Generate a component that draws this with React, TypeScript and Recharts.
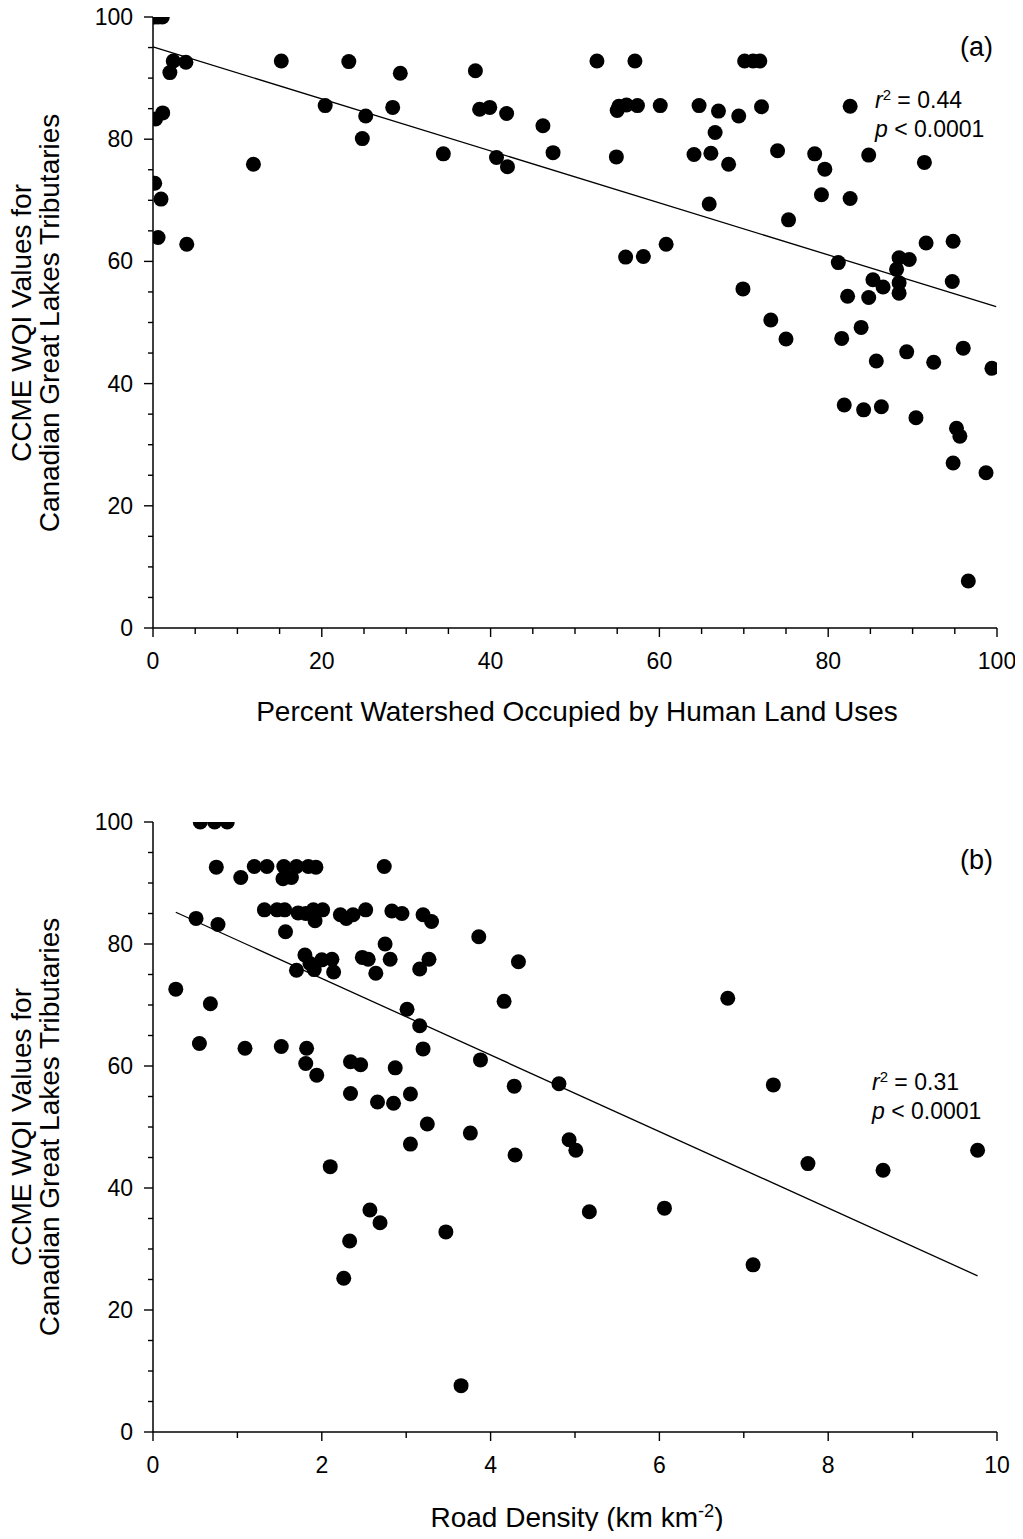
import React from 'react';
import { ScatterChart, Scatter, XAxis, YAxis, ReferenceLine } from 'recharts';

const FONT = '"Liberation Sans", Arial, Helvetica, sans-serif';

// (a) percent of watershed in human land uses vs CCME WQI
const landUse = [
  0.2, 0.6, 1.1, 2.4, 3.9, 2.0, 0.3, 1.15, 15.2, 23.2, 29.3, 20.4, 25.2, 28.4, 24.8, 34.4, 11.9, 0.2, 0.95, 0.6,
  4.0, 38.2, 38.7, 39.9, 41.9, 46.2, 47.4, 40.7, 42.0, 52.6, 57.1, 55.2, 56.1, 55.0, 57.4, 60.1, 64.7, 67.0, 66.6, 64.1,
  66.1, 68.2, 54.9, 65.9, 56.0, 58.1, 60.8, 70.1, 71.1, 71.9, 69.4, 72.1, 74.0, 78.4, 79.6, 82.6, 84.8, 91.4, 75.3, 79.2,
  82.6, 81.2, 91.6, 94.8, 88.4, 89.6, 88.1, 88.4, 88.4, 85.3, 86.5, 82.3, 84.8, 94.7, 69.9, 73.2, 83.9, 75.0, 81.6, 89.3,
  85.7, 92.5, 96.0, 99.4, 81.9, 84.2, 86.3, 90.4, 95.2, 95.6, 94.8, 98.7, 96.6,
];
const wqiLand = [
  100, 100, 100, 92.8, 92.6, 90.9, 83.3, 84.3, 92.8, 92.7, 90.8, 85.5, 83.8, 85.2, 80.1, 77.6, 75.9, 72.8, 70.2, 63.9,
  62.8, 91.2, 84.9, 85.2, 84.2, 82.2, 77.8, 77.0, 75.5, 92.8, 92.8, 85.4, 85.6, 84.7, 85.5, 85.5, 85.5, 84.6, 81.1, 77.5,
  77.7, 75.9, 77.1, 69.4, 60.7, 60.8, 62.8, 92.8, 92.8, 92.8, 83.8, 85.3, 78.1, 77.6, 75.1, 85.4, 77.4, 76.2, 66.8, 70.9,
  70.3, 59.8, 63.0, 63.3, 60.6, 60.3, 58.7, 56.5, 54.8, 57.0, 55.8, 54.3, 54.1, 56.7, 55.5, 50.4, 49.2, 47.3, 47.4, 45.2,
  43.7, 43.5, 45.8, 42.5, 36.5, 35.7, 36.2, 34.4, 32.7, 31.4, 27.0, 25.4, 7.7,
];

// (b) road density vs CCME WQI
const roadDensity = [
  0.56, 0.73, 0.88, 0.75, 1.04, 1.2, 1.35, 1.55, 1.7, 1.84, 1.93, 1.54, 1.64, 2.74, 0.51, 0.77, 1.32, 1.47, 1.56, 1.72,
  1.81, 1.9, 2.01, 1.92, 2.22, 2.29, 2.37, 2.52, 2.83, 2.95, 3.2, 3.3, 1.57, 2.75, 1.8, 1.86, 1.7, 1.91, 2.0, 2.12,
  2.14, 2.48, 2.55, 2.64, 2.81, 3.16, 3.27, 0.27, 0.68, 3.01, 3.16, 0.55, 1.09, 1.52, 1.82, 3.2, 1.81, 1.94, 2.34, 2.46,
  2.87, 2.34, 2.66, 2.85, 3.05, 3.25, 3.76, 3.05, 4.29, 2.1, 2.57, 2.69, 2.33, 3.47, 2.26, 3.65, 3.86, 4.33, 4.16, 6.81,
  3.88, 4.28, 4.81, 7.35, 4.93, 5.01, 7.76, 8.65, 9.77, 5.17, 6.06, 7.11,
];
const wqiRoad = [
  100, 100, 100, 92.6, 90.9, 92.7, 92.7, 92.7, 92.7, 92.7, 92.6, 90.7, 90.9, 92.7, 84.2, 83.2, 85.6, 85.6, 85.6, 85.1,
  85.0, 85.6, 85.6, 83.8, 84.8, 84.2, 84.8, 85.6, 85.4, 85.0, 84.8, 83.7, 82.0, 80.0, 78.2, 76.8, 75.7, 75.8, 77.4, 77.5,
  75.4, 77.8, 77.5, 75.2, 77.5, 75.9, 77.5, 72.6, 70.2, 69.3, 66.6, 63.7, 62.9, 63.2, 62.9, 62.8, 60.4, 58.5, 60.7, 60.2,
  59.7, 55.5, 54.1, 53.9, 55.4, 50.5, 49.0, 47.2, 45.4, 43.5, 36.4, 34.3, 31.3, 32.8, 25.2, 7.6, 81.2, 77.1, 70.6, 71.1,
  61.0, 56.7, 57.1, 56.9, 47.9, 46.2, 44.0, 42.9, 46.2, 36.1, 36.7, 27.4,
];

// fitted regression lines (end points)
const fitLandX = [0, 99.9];
const fitLandY = [95.1, 52.6];
const fitRoadX = [0.27, 9.77];
const fitRoadY = [85.2, 25.6];

const wqiTicks = [0, 5, 10, 15, 20, 25, 30, 35, 40, 45, 50, 55, 60, 65, 70, 75, 80, 85, 90, 95, 100];
const landTicks = [0, 5, 10, 15, 20, 25, 30, 35, 40, 45, 50, 55, 60, 65, 70, 75, 80, 85, 90, 95, 100];
const landTopTicks = [5, 10, 15, 25, 30, 35, 45, 50, 55, 65, 70, 75, 85, 90, 95];
const roadTicks = [0, 1, 2, 3, 4, 5, 6, 7, 8, 9, 10];
const roadTopTicks = [1, 3, 5, 7, 9];

const AXIS = { stroke: '#000', strokeWidth: 1.5 };

const LeftTick = (props: any) => {
  const { x, y, payload } = props;
  const v = payload.value;
  const major = v % 20 === 0;
  return (
    <g>
      <line x1={x - (major ? 9 : 5)} x2={x} y1={y} y2={y} stroke="#000" strokeWidth={1.4} />
      {major && (
        <text x={x - 20} y={y + 8} textAnchor="end" fontSize={23} fontFamily={FONT} fill="#000">
          {v}
        </text>
      )}
    </g>
  );
};

const BottomTick = (props: any) => {
  const { x, y, payload, step } = props;
  const v = payload.value;
  const major = v % step === 0;
  return (
    <g>
      <line x1={x} x2={x} y1={y} y2={y + (major ? 9 : 6)} stroke="#000" strokeWidth={1.4} />
      {major && (
        <text x={x} y={y + 41} textAnchor="middle" fontSize={23} fontFamily={FONT} fill="#000">
          {v}
        </text>
      )}
    </g>
  );
};

const TopTick = (props: any) => {
  const { x, y } = props;
  return <line x1={x} x2={x} y1={y} y2={y + 5} stroke="#000" strokeWidth={1.4} />;
};

const Dot = (props: any) => <circle cx={props.cx} cy={props.cy} r={7.5} fill="#000" />;

interface PanelProps {
  xs: number[];
  ys: number[];
  fitX: number[];
  fitY: number[];
  xMax: number;
  xTicks: number[];
  topTicks: number[];
  step: number;
  bottomHeight: number;
}

const Panel: React.FC<PanelProps> = ({ xs, ys, fitX, fitY, xMax, xTicks, topTicks, step, bottomHeight }) => {
  const data = xs.map((x, i) => ({ x, y: ys[i] }));
  return (
    <ScatterChart width={1007} height={688} margin={{ top: 17, right: 18, bottom: 0, left: 0 }}>
      <XAxis
        xAxisId="top"
        orientation="top"
        type="number"
        dataKey="x"
        domain={[0, xMax]}
        allowDataOverflow
        ticks={topTicks}
        interval={0}
        height={0}
        tickSize={0}
        tickMargin={0}
        tickLine={false}
        axisLine={AXIS}
        tick={<TopTick />}
      />
      <YAxis
        yAxisId="right"
        orientation="right"
        type="number"
        domain={[0, 100]}
        allowDataOverflow
        width={0}
        tick={false}
        tickLine={false}
        axisLine={AXIS}
      />
      <XAxis
        type="number"
        dataKey="x"
        domain={[0, xMax]}
        allowDataOverflow
        ticks={xTicks}
        interval={0}
        height={bottomHeight}
        tickSize={0}
        tickMargin={0}
        tickLine={false}
        axisLine={AXIS}
        tick={(p: any) => <BottomTick {...p} step={step} />}
      />
      <YAxis
        type="number"
        dataKey="y"
        domain={[0, 100]}
        allowDataOverflow
        ticks={wqiTicks}
        interval={0}
        width={145}
        tickSize={0}
        tickMargin={0}
        tickLine={false}
        axisLine={AXIS}
        tick={<LeftTick />}
      />
      <ReferenceLine
        segment={[
          { x: fitX[0], y: fitY[0] },
          { x: fitX[1], y: fitY[1] },
        ]}
        stroke="#000"
        strokeWidth={1.3}
      />
      <Scatter data={data} shape={<Dot />} isAnimationActive={false} />
    </ScatterChart>
  );
};

const yTitle: React.CSSProperties = {
  position: 'absolute',
  transform: 'translate(-50%, -50%) rotate(-90deg)',
  whiteSpace: 'nowrap',
  textAlign: 'center',
  fontSize: 28,
  lineHeight: '28px',
};

const xTitle: React.CSSProperties = {
  position: 'absolute',
  transform: 'translate(-50%, -50%)',
  whiteSpace: 'nowrap',
  fontSize: 28,
};

const sup: React.CSSProperties = { fontSize: '0.65em', position: 'relative', top: '-0.55em', lineHeight: 0 };

const Stats: React.FC<{ r2: string; left: number; top: number }> = ({ r2, left, top }) => (
  <div style={{ position: 'absolute', left, top, fontSize: 23, lineHeight: '28.5px', whiteSpace: 'nowrap' }}>
    <div>
      <i>r</i>
      <span style={sup}>2</span> = {r2}
    </div>
    <div>
      <i>p</i> &lt; 0.0001
    </div>
  </div>
);

export default function App() {
  return (
    <div style={{ position: 'relative', width: 1007, height: 1523, fontFamily: FONT, color: '#000' }}>
      <div style={{ position: 'absolute', left: 0, top: -8 }}>
        <Panel
          xs={landUse}
          ys={wqiLand}
          fitX={fitLandX}
          fitY={fitLandY}
          xMax={100}
          xTicks={landTicks}
          topTicks={landTopTicks}
          step={20}
          bottomHeight={60}
        />
      </div>
      <div style={{ position: 'absolute', left: 0, top: 797 }}>
        <Panel
          xs={roadDensity}
          ys={wqiRoad}
          fitX={fitRoadX}
          fitY={fitRoadY}
          xMax={10}
          xTicks={roadTicks}
          topTicks={roadTopTicks}
          step={2}
          bottomHeight={61}
        />
      </div>

      <div style={{ position: 'absolute', left: 28, top: 314.5 }}>
        <div style={yTitle}>
          CCME WQI Values for
          <br />
          Canadian Great Lakes Tributaries
        </div>
      </div>
      <div style={{ position: 'absolute', left: 28, top: 1119 }}>
        <div style={yTitle}>
          CCME WQI Values for
          <br />
          Canadian Great Lakes Tributaries
        </div>
      </div>

      <div style={{ ...xTitle, left: 569, top: 704 }}>Percent Watershed Occupied by Human Land Uses</div>
      <div style={{ ...xTitle, left: 569, top: 1510 }}>
        Road Density (km km<span style={sup}>-2</span>)
      </div>

      <div style={{ position: 'absolute', right: 22, top: 39, transform: 'translateY(-50%)', fontSize: 27 }}>(a)</div>
      <div style={{ position: 'absolute', right: 22, top: 852, transform: 'translateY(-50%)', fontSize: 27 }}>(b)</div>

      <Stats r2="0.44" left={867} top={78} />
      <Stats r2="0.31" left={864} top={1060} />
    </div>
  );
}
